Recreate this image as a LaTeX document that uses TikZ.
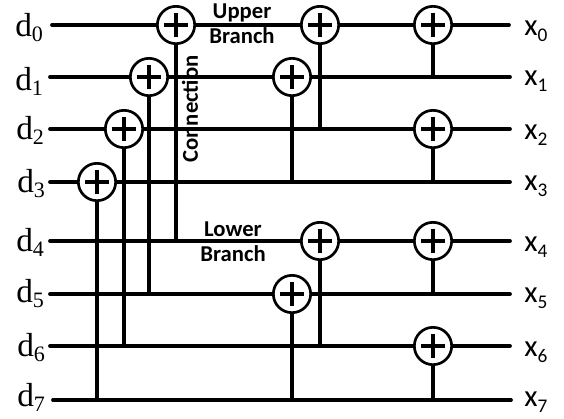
\documentclass[tikz,border=0pt]{standalone}
\usepackage{fontspec}
\setmainfont{Carlito}
\newfontfamily\serifface{Liberation Serif}
\newcommand{\insub}[1]{\raisebox{-3.75pt}{\fontsize{16.5}{16.5}\selectfont #1}}
\newcommand{\outsub}[1]{\raisebox{-4.5pt}{\fontsize{14.5}{14.5}\selectfont #1}}
\tikzset{
	wire/.style={line width=2.8pt,line cap=round},
	tap/.style={line width=2.8pt},
	xorgate/.style={circle,draw,line width=2pt,minimum size=28pt,inner sep=0pt,
		path picture={\draw[line width=3pt]
			([xshift=-9pt]path picture bounding box.center) -- ([xshift=9pt]path picture bounding box.center)
			([yshift=-9pt]path picture bounding box.center) -- ([yshift=9pt]path picture bounding box.center);}},
	inlabel/.style={anchor=base west,inner sep=0pt,font=\serifface\fontsize{25}{25}\selectfont},
	outlabel/.style={anchor=base west,inner sep=0pt,font=\fontsize{23}{23}\selectfont},
	branchlabel/.style={align=center,inner sep=0pt,font=\bfseries\fontsize{17}{18.5}\selectfont}
}
\begin{document}
\begin{tikzpicture}[x=0.75pt,y=0.75pt,yscale=-1,xscale=1]
		\useasboundingbox (0,0) rectangle (564,418);
		% wire ends
		\coordinate (in0) at (52,25);
		\coordinate (in1) at (50,77);
		\coordinate (in2) at (50,129);
		\coordinate (in3) at (50,182);
		\coordinate (in4) at (50,241);
		\coordinate (in5) at (50,294);
		\coordinate (in6) at (50,346);
		\coordinate (in7) at (53,400);
		\coordinate (out0) at (509,25);
		\coordinate (out1) at (510,77);
		\coordinate (out2) at (510,129);
		\coordinate (out3) at (510,182);
		\coordinate (out4) at (510,241);
		\coordinate (out5) at (510,294);
		\coordinate (out6) at (510,346);
		\coordinate (out7) at (511,400);
		% first stage
		\node[xorgate] (a0) at (176,25) {};
		\node[xorgate] (a1) at (149,77) {};
		\node[xorgate] (a2) at (124,129) {};
		\node[xorgate] (a3) at (97,182) {};
		% second stage
		\node[xorgate] (b0) at (320,25) {};
		\node[xorgate] (b1) at (292,77) {};
		\node[xorgate] (b4) at (320,241) {};
		\node[xorgate] (b5) at (292,294) {};
		% third stage
		\node[xorgate] (c0) at (433,25) {};
		\node[xorgate] (c2) at (433,129) {};
		\node[xorgate] (c4) at (433,241) {};
		\node[xorgate] (c6) at (433,346) {};
		% rows
		\draw[wire] (in0) -- (a0) -- (b0) -- (c0) -- (out0);
		\draw[wire] (in1) -- (a1) -- (b1) -- (out1);
		\draw[wire] (in2) -- (a2) -- (c2) -- (out2);
		\draw[wire] (in3) -- (a3) -- (out3);
		\draw[wire] (in4) -- (b4) -- (c4) -- (out4);
		\draw[wire] (in5) -- (b5) -- (out5);
		\draw[wire] (in6) -- (c6) -- (out6);
		\draw[wire] (in7) -- (out7);
		% taps
		\draw[tap] (a0) -- (a0 |- in4);
		\draw[tap] (a1) -- (a1 |- in5);
		\draw[tap] (a2) -- (a2 |- in6);
		\draw[tap] (a3) -- (a3 |- in7);
		\draw[tap] (b0) -- (b0 |- in2);
		\draw[tap] (b1) -- (b1 |- in3);
		\draw[tap] (b4) -- (b4 |- in6);
		\draw[tap] (b5) -- (b5 |- in7);
		\draw[tap] (c0) -- (c0 |- in1);
		\draw[tap] (c2) -- (c2 |- in3);
		\draw[tap] (c4) -- (c4 |- in5);
		\draw[tap] (c6) -- (c6 |- in7);
		% labels
		\node[inlabel] (d0) at (15,36) {d\insub{0}};
		\node[inlabel] (d1) at (15,90) {d\insub{1}};
		\node[inlabel] (d2) at (16,139) {d\insub{2}};
		\node[inlabel] (d3) at (17,192) {d\insub{3}};
		\node[inlabel] (d4) at (16,251) {d\insub{4}};
		\node[inlabel] (d5) at (16,302) {d\insub{5}};
		\node[inlabel] (d6) at (17,356) {d\insub{6}};
		\node[inlabel] (d7) at (17,406) {d\insub{7}};
		\node[outlabel] (x0) at (524,35) {x\outsub{0}};
		\node[outlabel] (x1) at (524,85) {x\outsub{1}};
		\node[outlabel] (x2) at (524,139) {x\outsub{2}};
		\node[outlabel] (x3) at (524,190) {x\outsub{3}};
		\node[outlabel] (x4) at (524,251) {x\outsub{4}};
		\node[outlabel] (x5) at (524,302) {x\outsub{5}};
		\node[outlabel] (x6) at (524,356) {x\outsub{6}};
		\node[outlabel] (x7) at (524,406) {x\outsub{7}};
		\node[branchlabel] (upper) at (242,23.5) {Upper\\Branch};
		\node[branchlabel] (lower) at (233,242) {Lower\\Branch};
		\node[branchlabel,rotate=90] (connection) at (190,109) {Connection};
\end{tikzpicture}
\end{document}
